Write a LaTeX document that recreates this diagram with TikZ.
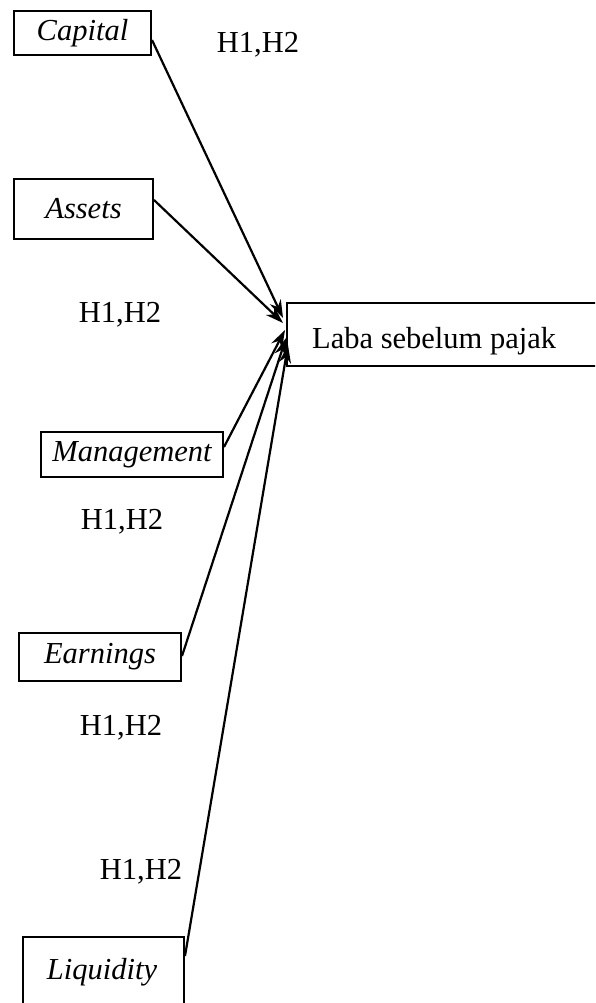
\documentclass[tikz,border=0pt]{standalone}
\usepackage{fontspec}
\setmainfont{Liberation Serif}
\usetikzlibrary{arrows.meta}
\begin{document}
\begin{tikzpicture}[x=1pt,y=-1pt,
  lbl/.style={font=\fontsize{30.5}{34}\selectfont, inner sep=0pt},
  ibox/.style={draw, line width=2pt, font=\fontsize{30.5}{34}\selectfont\itshape, inner sep=0pt},
  conn/.style={line width=2.2pt, -{Stealth[length=18pt,width=12pt]}}]
\useasboundingbox (0,0) rectangle (595,1003);
\begin{scope}
\clip (0,0) rectangle (595,1003);
\node[ibox, minimum width=137pt, minimum height=44pt, anchor=north west] (cap) at (13,10) {Capital};
\node[ibox, minimum width=139pt, minimum height=60pt, anchor=north west] (ass) at (13,178) {Assets};
\node[ibox, minimum width=182pt, minimum height=45pt, anchor=north west] (man) at (40,431) {Management};
\node[ibox, minimum width=162pt, minimum height=48pt, anchor=north west] (ear) at (18,632) {Earnings};
\node[draw, line width=2pt, minimum width=161pt, minimum height=110pt, anchor=north west, inner sep=0pt] (liqbox) at (22,936) {};
\node[font=\fontsize{30.5}{34}\selectfont\itshape, inner sep=0pt] (liq) at (102,972) {Liquidity};
\node[draw, line width=2pt, minimum width=330pt, minimum height=63pt, anchor=north west, inner sep=0pt] (laba) at (286,302) {};
\node[lbl, anchor=west] (labat) at (312,341) {Laba sebelum pajak};
\end{scope}
\node[lbl] (h1) at (258,45) {H1,H2};
\node[lbl] (h2) at (120,315) {H1,H2};
\node[lbl] (h3) at (122,522) {H1,H2};
\node[lbl] (h4) at (121,728) {H1,H2};
\node[lbl] (h5) at (141,872) {H1,H2};
\coordinate (t1) at (283,318);
\coordinate (t2) at (283,323);
\coordinate (t3) at (285,330);
\coordinate (t4) at (286,338);
\coordinate (t5) at (288,345);
\draw[conn] (cap.east |- 0,40) -- (t1);
\draw[conn] (ass.east |- 0,200) -- (t2);
\draw[conn] (man.east |- 0,447) -- (t3);
\draw[conn] (ear.east |- 0,656) -- (t4);
\draw[conn] (liqbox.east |- 0,956) -- (t5);
\end{tikzpicture}
\end{document}
